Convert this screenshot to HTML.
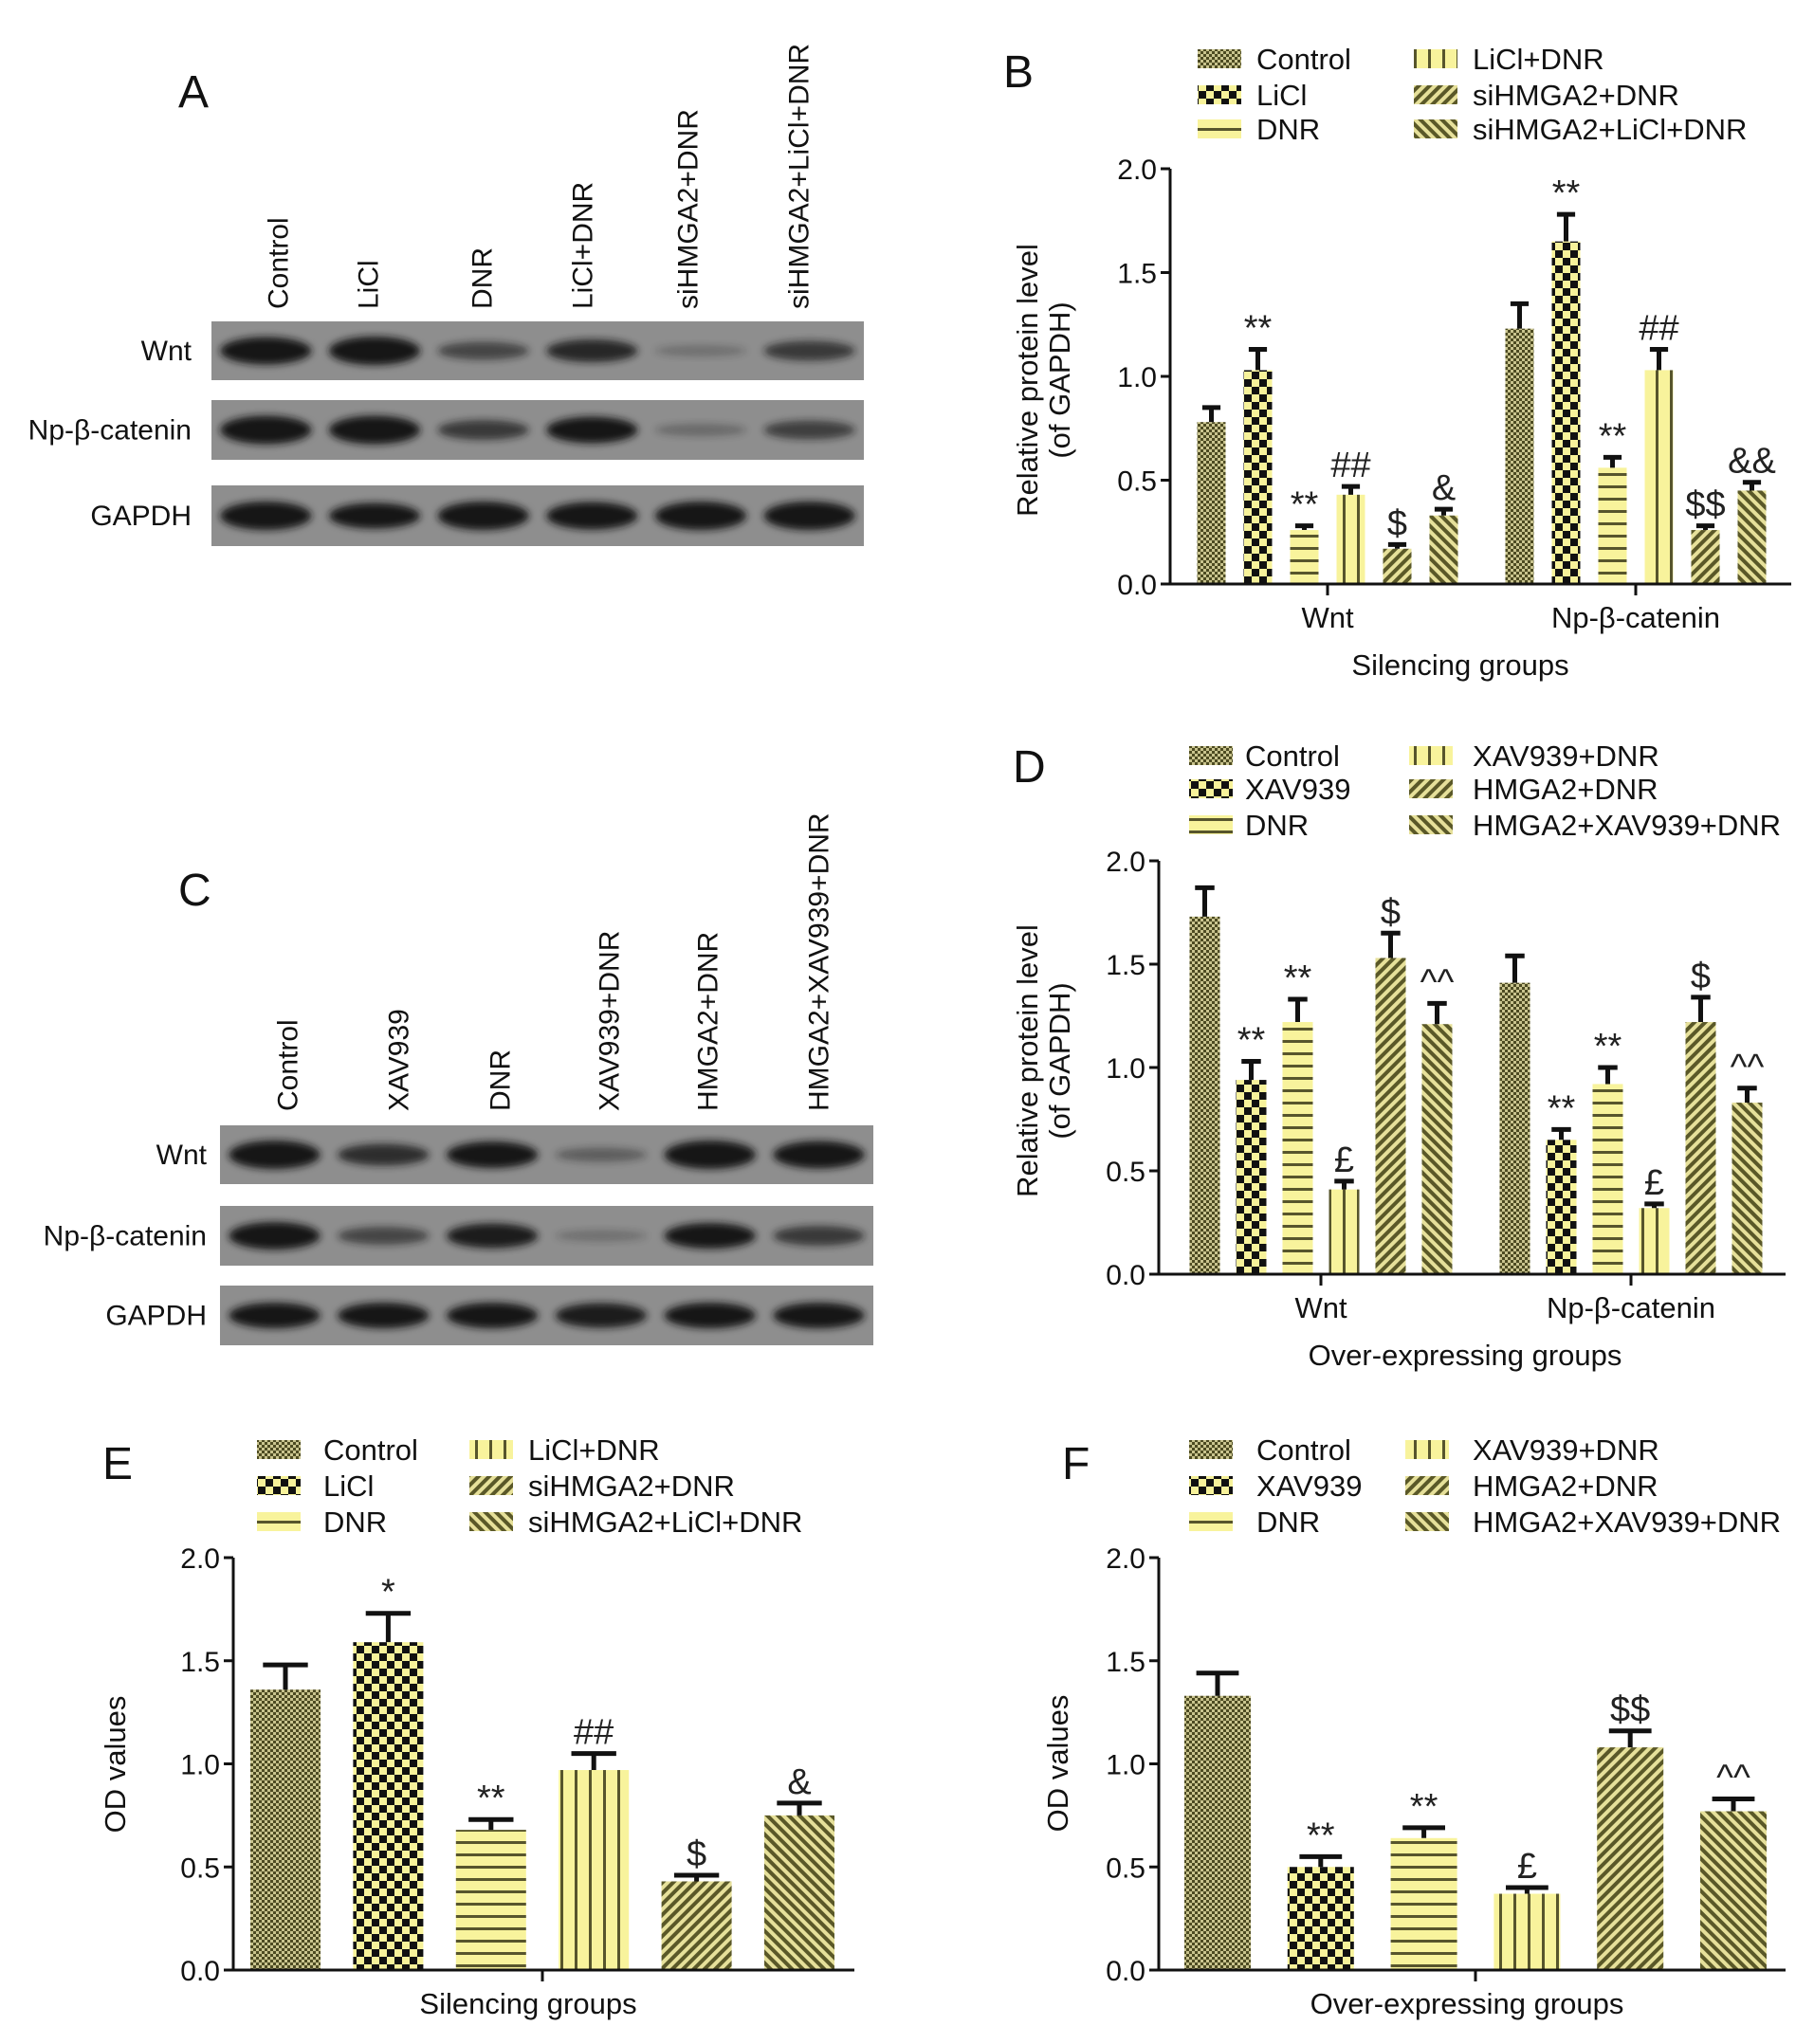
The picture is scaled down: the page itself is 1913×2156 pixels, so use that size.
<!DOCTYPE html>
<html><head><meta charset="utf-8"><style>
html,body{margin:0;padding:0;background:#fff;}
svg{display:block;font-family:"Liberation Sans",sans-serif;}
</style></head><body>
<svg id="fig" width="1913" height="2156" viewBox="0 0 1913 2156" xmlns="http://www.w3.org/2000/svg">
<defs>
<pattern id="pCtrl" width="6" height="6" patternUnits="userSpaceOnUse"><rect width="6" height="6" fill="#c9c48e"/><rect width="3" height="3" fill="#4d4b22"/><rect x="3" y="3" width="3" height="3" fill="#4d4b22"/></pattern>
<pattern id="pChk" width="16" height="16" patternUnits="userSpaceOnUse"><rect width="16" height="16" fill="#f7f29a"/><rect width="8" height="8" fill="#111"/><rect x="8" y="8" width="8" height="8" fill="#111"/></pattern>
<pattern id="pH" width="14" height="13" patternUnits="userSpaceOnUse"><rect width="14" height="13" fill="#f8f39c"/><rect y="5" width="14" height="3" fill="#57552c"/></pattern>
<pattern id="pV" width="15" height="14" patternUnits="userSpaceOnUse"><rect width="15" height="14" fill="#f8f39c"/><rect x="6" width="3" height="14" fill="#57552c"/></pattern>
<pattern id="pD1" width="8" height="8" patternUnits="userSpaceOnUse" patternTransform="rotate(45)"><rect width="8" height="8" fill="#e6e09a"/><rect width="4" height="8" fill="#5a5828"/></pattern>
<pattern id="pD2" width="8" height="8" patternUnits="userSpaceOnUse" patternTransform="rotate(-45)"><rect width="8" height="8" fill="#e6e09a"/><rect width="4" height="8" fill="#5a5828"/></pattern>
<filter id="blur" x="-20%" y="-50%" width="140%" height="200%"><feGaussianBlur stdDeviation="4"/></filter>
</defs>
</svg>
<script>
// ---- data ----
const groups = ['Wnt', 'Np-β-catenin'];
const silNames = ['Control', 'LiCl', 'DNR', 'LiCl+DNR', 'siHMGA2+DNR', 'siHMGA2+LiCl+DNR'];
const overNames = ['Control', 'XAV939', 'DNR', 'XAV939+DNR', 'HMGA2+DNR', 'HMGA2+XAV939+DNR'];
const yTicks = [0, 0.5, 1.0, 1.5, 2.0];
const yTickLabels = ['0.0', '0.5', '1.0', '1.5', '2.0'];
const bMeans = [[0.78, 1.03, 0.26, 0.43, 0.17, 0.33], [1.23, 1.65, 0.56, 1.03, 0.26, 0.45]];
const bSem = [[0.07, 0.10, 0.02, 0.04, 0.02, 0.03], [0.12, 0.13, 0.05, 0.10, 0.02, 0.04]];
const bNotes = [['', '**', '**', '##', '$', '&'], ['', '**', '**', '##', '$$', '&&']];
const dMeans = [[1.73, 0.94, 1.22, 0.41, 1.53, 1.21], [1.41, 0.65, 0.92, 0.32, 1.22, 0.83]];
const dSem = [[0.14, 0.09, 0.11, 0.04, 0.12, 0.10], [0.13, 0.05, 0.08, 0.02, 0.12, 0.07]];
const dNotes = [['', '**', '**', '£', '$', '^^'], ['', '**', '**', '£', '$', '^^']];
const eMeans = [1.36, 1.59, 0.68, 0.97, 0.43, 0.75];
const eSem = [0.12, 0.14, 0.05, 0.08, 0.03, 0.06];
const eNotes = ['', '*', '**', '##', '$', '&'];
const fMeans = [1.33, 0.50, 0.64, 0.37, 1.08, 0.77];
const fSem = [0.11, 0.05, 0.05, 0.03, 0.08, 0.06];
const fNotes = ['', '**', '**', '£', '$$', '^^'];
// blot band intensities (0..1)
const blotARows = ['Wnt', 'Np-β-catenin', 'GAPDH'];
const blotAIntensity = [[0.95, 1.0, 0.45, 0.7, 0.1, 0.55], [1.0, 1.0, 0.55, 0.9, 0.15, 0.5], [1.0, 0.85, 1.0, 0.95, 1.0, 1.0]];
const blotCIntensity = [[1.0, 0.65, 0.9, 0.25, 1.0, 0.95], [0.95, 0.45, 0.8, 0.1, 0.85, 0.55], [0.85, 0.85, 0.85, 0.8, 0.85, 0.85]];
const pats = ['pCtrl', 'pChk', 'pH', 'pV', 'pD1', 'pD2'];

const svg = document.getElementById('fig');
const NS = 'http://www.w3.org/2000/svg';
function mk(tag, attrs, parent) {
  const e = document.createElementNS(NS, tag);
  for (const k in attrs) e.setAttribute(k, attrs[k]);
  (parent || svg).appendChild(e);
  return e;
}
function txt(str, attrs, parent) { const t = mk('text', attrs, parent); t.textContent = str; return t; }

// ---- blots ----
function blot(letter, lx, ly, cols, colX, colBottom, boxX0, boxX1, rowsY, inten, labelRight) {
  const g = mk('g', {});
  
  
  const L = txt(letter, {x: lx, y: ly, 'font-size': 48, fill: '#111'}, g);
  
  
  cols.forEach((c, i) => {
    const t = txt(c, {x: 0, y: 0, 'font-size': 30, fill: '#111', transform: `translate(${colX[i]},${colBottom}) rotate(-90)`, 'dominant-baseline': 'central'}, g);
    
    
  });
  const lw = (boxX1 - boxX0) / 6;
  rowsY.forEach((r, ri) => {
    const rr = mk('rect', {x: boxX0, y: r[0], width: boxX1 - boxX0, height: r[1] - r[0], fill: '#8e8e8e'}, g);
    
    
    const t = txt(blotARows[ri], {x: labelRight, y: (r[0] + r[1]) / 2 + 10, 'font-size': 30, 'text-anchor': 'end', fill: '#111'}, g);
    
    
    inten[ri].forEach((v, i) => {
      const cx = boxX0 + lw * (i + 0.5);
      const e = mk('ellipse', {cx: cx, cy: (r[0] + r[1]) / 2, rx: lw * 0.42, ry: 5 + 10 * v, fill: '#161616', opacity: Math.min(1, 0.15 + v), filter: 'url(#blur)'}, g);
      
      
    });
  });
}
blot('A', 188, 113, silNames, [294, 389, 509, 615, 726, 843], 326, 223, 911, [[339, 401], [422, 485], [512, 576]], blotAIntensity, 202);
blot('C', 188, 955, overNames, [304, 421, 528, 643, 747, 864], 1172, 232, 921, [[1187, 1249], [1272, 1335], [1356, 1419]], blotCIntensity, 218);

// ---- bar charts ----
function chart(o) {
  const g = mk('g', {});
  
  
  const y = v => o.y0 - (v / 2) * (o.y0 - o.yTop);
  const L = txt(o.letter, {x: o.lx, y: o.ly, 'font-size': 48, fill: '#111'}, g);
  
  
  o.names.forEach((n, i) => {
    const col = Math.floor(i / 3), row = i % 3;
    const sx = o.legSw[col], ry = o.legRows[row];
    const sw = mk('rect', {x: sx, y: ry - 10, width: 46, height: 20, fill: `url(#${pats[i]})`}, g);
    
    
    const t = txt(n, {x: o.legTx[col], y: ry + 11, 'font-size': 31, fill: '#111'}, g);
    
    
  });
  const ya = mk('line', {x1: o.ax, y1: o.yTop, x2: o.ax, y2: o.y0, stroke: '#111', 'stroke-width': 3}, g);
  
  
  yTicks.forEach((v, i) => {
    mk('line', {x1: o.ax - 10, y1: y(v), x2: o.ax, y2: y(v), stroke: '#111', 'stroke-width': 3}, g);
    const t = txt(yTickLabels[i], {x: o.ax - 14, y: y(v) + 11, 'font-size': 30, 'text-anchor': 'end', fill: '#111'}, g);
    
    
  });
  o.groupCenters.forEach((gc, gi) => {
    const means = o.means[gi], sems = o.sems[gi], notes = o.notes[gi];
    means.forEach((m, i) => {
      const cx = gc + (i - 2.5) * o.spacing;
      const r = mk('rect', {x: cx - o.bw / 2, y: y(m), width: o.bw, height: o.y0 - y(m), fill: `url(#${pats[i]})`}, g);
      
      
      const et = y(m + sems[i]);
      const eb = mk('path', {d: `M${cx},${y(m)}V${et}M${cx - o.bw * 0.32},${et}H${cx + o.bw * 0.32}`, stroke: '#111', 'stroke-width': 5, fill: 'none'}, g);
      
      
      if (notes[i]) {
        const a = txt(notes[i], {x: cx, y: et - 10, 'font-size': 38, 'text-anchor': 'middle', fill: '#222'}, g);
        
        
      }
    });
    mk('line', {x1: gc, y1: o.y0, x2: gc, y2: o.y0 + 12, stroke: '#111', 'stroke-width': 3}, g);
    if (o.groupNames) {
      const t = txt(o.groupNames[gi], {x: gc, y: o.gy, 'font-size': 31, 'text-anchor': 'middle', fill: '#111'}, g);
      
      
    }
  });
  const xa = mk('line', {x1: o.ax - 1, y1: o.y0, x2: o.xEnd, y2: o.y0, stroke: '#111', 'stroke-width': 3}, g);
  
  
  const xt = txt(o.xTitle, {x: o.xtx, y: o.xty, 'font-size': 31, 'text-anchor': 'middle', fill: '#111'}, g);
  
  
  const yt = mk('text', {transform: `translate(${o.ytx},${o.yty}) rotate(-90)`, 'font-size': 31, 'text-anchor': 'middle', fill: '#111'}, g);
  
  
  o.yTitle.forEach((line, i) => {
    const ts = mk('tspan', {x: 0, dy: i === 0 ? (o.yTitle.length > 1 ? -6 : 10) : 34}, yt);
    ts.textContent = line;
  });
}
chart({name: 'chart-b', letter: 'B', lx: 1058, ly: 92, names: silNames, legSw: [1263, 1491], legTx: [1325, 1553], legRows: [62, 100, 136],
  ax: 1234, y0: 616, yTop: 178, xEnd: 1889, groupCenters: [1400, 1725], spacing: 49, bw: 30,
  means: bMeans, sems: bSem, notes: bNotes, groupNames: groups, gy: 662, xTitle: 'Silencing groups', xtx: 1540, xty: 712,
  yTitle: ['Relative protein level', '(of GAPDH)'], ytx: 1100, yty: 401});
chart({name: 'chart-d', letter: 'D', lx: 1068, ly: 825, names: overNames, legSw: [1254, 1486], legTx: [1313, 1553], legRows: [797, 832, 870],
  ax: 1222, y0: 1344, yTop: 908, xEnd: 1883, groupCenters: [1393, 1720], spacing: 49, bw: 32,
  means: dMeans, sems: dSem, notes: dNotes, groupNames: groups, gy: 1390, xTitle: 'Over-expressing groups', xtx: 1545, xty: 1440,
  yTitle: ['Relative protein level', '(of GAPDH)'], ytx: 1100, yty: 1119});
chart({name: 'chart-e', letter: 'E', lx: 108, ly: 1560, names: silNames, legSw: [271, 495], legTx: [341, 557], legRows: [1529, 1567, 1605],
  ax: 246, y0: 2078, yTop: 1643, xEnd: 901, groupCenters: [572], spacing: 108.4, bw: 74,
  means: [eMeans], sems: [eSem], notes: [eNotes], groupNames: null, xTitle: 'Silencing groups', xtx: 557, xty: 2124,
  yTitle: ['OD values'], ytx: 122, yty: 1861});
chart({name: 'chart-f', letter: 'F', lx: 1120, ly: 1560, names: overNames, legSw: [1254, 1482], legTx: [1325, 1553], legRows: [1529, 1567, 1605],
  ax: 1222, y0: 2078, yTop: 1643, xEnd: 1883, groupCenters: [1556], spacing: 108.8, bw: 70,
  means: [fMeans], sems: [fSem], notes: [fNotes], groupNames: null, xTitle: 'Over-expressing groups', xtx: 1547, xty: 2124,
  yTitle: ['OD values'], ytx: 1116, yty: 1860});
</script>
</body></html>
